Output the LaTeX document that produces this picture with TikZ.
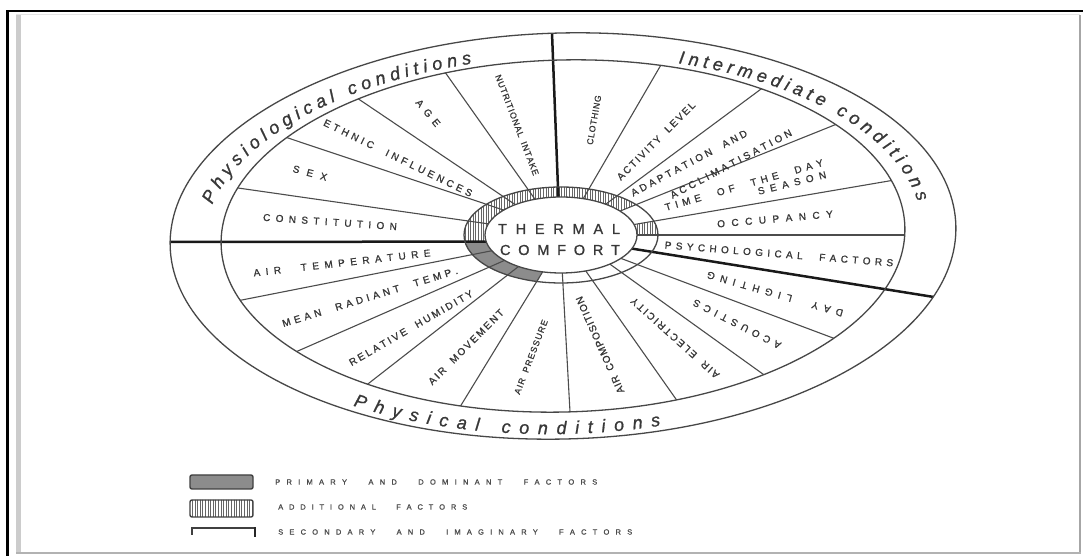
\documentclass[tikz,border=0pt]{standalone}
\usepackage{fontspec}
\setmainfont{Liberation Sans}
\newfontfamily\labfont[FakeBold=1]{Liberation Sans}
\usetikzlibrary{calc,decorations.text,patterns.meta}

\ExplSyntaxOn
\seq_new:N \l_sp_words_seq
\seq_new:N \l_sp_chars_seq
\seq_new:N \l_sp_out_seq
\NewDocumentCommand \spread { m m }
 {
  \seq_set_split:Nnn \l_sp_words_seq { ~ } { #2 }
  \seq_clear:N \l_sp_out_seq
  \seq_map_inline:Nn \l_sp_words_seq
   {
    \seq_clear:N \l_sp_chars_seq
    \tl_map_inline:nn { ##1 } { \seq_put_right:Nn \l_sp_chars_seq { ####1 } }
    \seq_put_right:Nx \l_sp_out_seq { \seq_use:Nn \l_sp_chars_seq { \hfil } }
   }
  \makebox[#1][s]{ \seq_use:Nn \l_sp_out_seq { \hspace{0.35em}\hfil\hfil\hfil } }
 }
\ExplSyntaxOff

\newcommand\ringfont{\labfont\itshape\fontsize{18}{18}\selectfont}
\newcommand\bandseg[3]{\path[#3] (#1:97pt and 48pt) arc[start angle=#1, end angle=#2, x radius=97pt, y radius=48pt] -- (#2:76pt and 38pt) arc[start angle=#2, end angle=#1, x radius=76pt, y radius=38pt] -- cycle;}

\begin{document}
\begin{tikzpicture}[x=1pt,y=1pt,
  segline/.style={draw=black!70, line width=1.1pt, shorten >=-30pt},
  divline/.style={draw=black!90, line width=2.5pt, shorten >=-40pt},
  seglab/.style={inner sep=0pt, text=black!78, font=\labfont\fontsize{10}{10}\selectfont},
  smalllab/.style={seglab, font=\labfont\fontsize{8.7}{9}\selectfont},
  legtext/.style={inner sep=0pt, anchor=west, text=black!70, font=\labfont\fontsize{7.5}{8}\selectfont},
  ellline/.style={draw=black!72, line width=1.3pt},
  hatch/.style={pattern={Lines[angle=90,distance=2.6pt,line width=0.8pt]}, pattern color=black!60},
  primfill/.style={fill=black!45},
  ringtext/.style={decorate, decoration={text along path, text align={fit to path}, text color=black!78, text={|\ringfont|#1}}}
]
\fill[white] (0,0) rectangle (1083,556);
\useasboundingbox (0,0) rectangle (1083,556);

% frame
\draw[black!20, line width=5pt] (18.5,3) -- (18.5,541);
\draw[black!35, line width=1.5pt] (1080,3) -- (1080,541);
\draw[black!30, line width=1.5pt] (16,3) -- (1081,3);
\draw[black!10, line width=1pt] (16,541.5) -- (1080,541.5);
\draw[black, line width=2.2pt] (7.5,0) -- (7.5,545) -- (1083,545);

\coordinate (C) at (563,320);
\coordinate (H) at (561,321);

% hub band fills
\begin{scope}[shift={(561,321)}]
\bandseg{190}{256}{primfill}
\bandseg{39}{190}{hatch}
\bandseg{0}{16}{hatch}
\end{scope}

% segment lines
\begin{scope}
\clip[shift={(563,320)}, rotate=1.5] (0,0) ellipse[x radius=342pt, y radius=176pt];
\foreach \t/\px/\py in {163/238/368, 139/285/419, 127/357/458, 110/447/481,
  73/658/486, 54/753/461, 39/827/428, 16/883/374, 0/902/321,
  322/833/218, 310/767/179, 289/678/154, 271/570/144, 256/463/154,
  236/373/176, 222/307/209, 204.5/252/258}
  \draw[segline] ($(H)+(\t:76pt and 38pt)$) -- (\px,\py);
\end{scope}
\begin{scope}
\clip[shift={(563,320)}, rotate=1.5] (0,0) ellipse[x radius=393pt, y radius=203pt];
\foreach \t/\px/\py in {190/170/314, 92/552/523, 339/940/258}
  \draw[divline] ($(H)+(\t:76pt and 38pt)$) -- (\px,\py);
\end{scope}

% ellipses and ring texts
\begin{scope}[shift={(563,320)}, rotate=1.5]
\draw[ellline] (0,0) ellipse[x radius=393pt, y radius=203pt];
\draw[ellline] (0,0) ellipse[x radius=342pt, y radius=176pt];
\path[ringtext={Physiological conditions}] (167:359pt and 180pt) arc[start angle=167, end angle=104, x radius=359pt, y radius=180pt];
\path[ringtext={Intermediate conditions}] (70.5:359pt and 180pt) arc[start angle=70.5, end angle=8, x radius=359pt, y radius=180pt];
\path[ringtext={Physical conditions}] (236:383pt and 198pt) arc[start angle=236, end angle=284, x radius=383pt, y radius=198pt];
\end{scope}

% hub
\draw[ellline] (H) ellipse[x radius=97pt, y radius=48pt];
\draw[ellline, fill=white] (H) ellipse[x radius=76pt, y radius=38pt];
\node[inner sep=0pt, text=black!78, font=\labfont\fontsize{14.5}{15}\selectfont] (th) at (559,327) {\spread{122pt}{THERMAL}};
\node[inner sep=0pt, text=black!78, font=\labfont\fontsize{14.5}{15}\selectfont] (cf) at (560,306) {\spread{120pt}{COMFORT}};

% physiological labels
\node[seglab, rotate=-4] (l1) at (330,334) {\spread{134pt}{CONSTITUTION}};
\node[seglab, rotate=-15] (l2) at (310,383) {\spread{35pt}{SEX}};
\node[seglab, rotate=-26] (l3) at (398,398) {\spread{164pt}{ETHNIC INFLUENCES}};
\node[seglab, rotate=-50] (l4) at (428,443) {\spread{32pt}{AGE}};
\node[smalllab, rotate=-69] (l5) at (517,431) {\spread{107pt}{NUTRITIONAL INTAKE}};
% intermediate labels
\node[smalllab, rotate=80] (l6) at (594,436) {\spread{50pt}{CLOTHING}};
\node[seglab, rotate=45] (l7) at (656,415) {\spread{106pt}{ACTIVITY LEVEL}};
\node[seglab, rotate=28] (l8) at (689,393) {\spread{130pt}{ADAPTATION AND}};
\node[seglab, rotate=28] (l9) at (731,392) {\spread{136pt}{ACCLIMATISATION}};
\node[seglab, rotate=16] (l10) at (744,371) {\spread{164pt}{TIME OF THE DAY}};
\node[seglab, rotate=14] (l11) at (792,373) {\spread{70pt}{SEASON}};
\node[seglab, rotate=5] (l12) at (775,337) {\spread{116pt}{OCCUPANCY}};
\node[seglab, rotate=-4.5] (l13) at (779,302) {\spread{229pt}{PSYCHOLOGICAL FACTORS}};
% physical labels
\node[seglab, rotate=164] (l14) at (775,262) {\spread{141pt}{DAY LIGHTING}};
\node[seglab, rotate=153] (l15) at (737,232) {\spread{97pt}{ACOUSTICS}};
\node[seglab, rotate=138] (l16) at (675,218) {\spread{115pt}{AIR ELECTRICITY}};
\node[seglab, rotate=114] (l17) at (600,211) {\spread{105pt}{AIR COMPOSITION}};
\node[smalllab, rotate=69] (l18) at (531,199) {\spread{79pt}{AIR PRESSURE}};
\node[seglab, rotate=45] (l19) at (466,209) {\spread{102pt}{AIR MOVEMENT}};
\node[seglab, rotate=30] (l20) at (411,228) {\spread{141pt}{RELATIVE HUMIDITY}};
\node[seglab, rotate=17] (l21) at (370,259) {\spread{183pt}{MEAN RADIANT TEMP.}};
\node[seglab, rotate=6.5] (l22) at (342,293) {\spread{178pt}{AIR TEMPERATURE}};

% legend
\draw[black!75, line width=1.4pt, rounded corners=2pt, fill=black!45] (190,67) rectangle (253,81);
\draw[black!75, line width=1.4pt, rounded corners=2pt, hatch] (190,39) rectangle (253,56);
\draw[black!75, line width=1.2pt] (192,21) -- (192,28) -- (255,28);
\draw[black!85, line width=2pt] (255,28.5) -- (255,19);
\node[legtext] (g1) at (275,74) {\spread{322pt}{PRIMARY AND DOMINANT FACTORS}};
\node[legtext] (g2) at (278,49) {\spread{189pt}{ADDITIONAL FACTORS}};
\node[legtext] (g3) at (278,24) {\spread{354pt}{SECONDARY AND IMAGINARY FACTORS}};
\end{tikzpicture}
\end{document}
